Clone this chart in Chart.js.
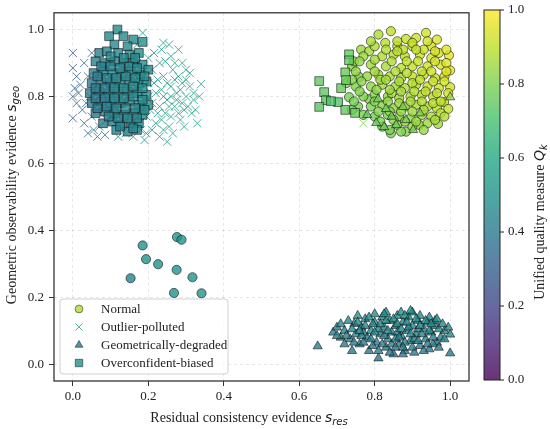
<!DOCTYPE html>
<html>
<head>
<meta charset="utf-8">
<script src="https://cdn.jsdelivr.net/npm/chart.js@4.4.1/dist/chart.umd.min.js"></script>
<style>
  html, body { margin: 0; padding: 0; background: #fff; }
  #wrap { width: 550px; height: 429px; }
</style>
</head>
<body>
<div id="wrap"><canvas id="qualityScatter"></canvas></div>
<script>
// Points are [s_res, s_geo, Q_k]
const seriesNames = ["Normal", "Outlier-polluted", "Geometrically-degraded", "Overconfident-biased"];
const xTicks = [0.0, 0.2, 0.4, 0.6, 0.8, 1.0];
const yTicks = [0.0, 0.2, 0.4, 0.6, 0.8, 1.0];
const qTicks = [0.0, 0.2, 0.4, 0.6, 0.8, 1.0];

const normalPts = [
  [0.843,0.995,.90],[0.936,0.99,.93],[0.910,0.975,.92],[0.828,0.96,.89],[0.883,0.972,.91],
  [0.764,0.94,.85],[0.785,0.935,.86],[0.997,0.923,.96],[1.0,0.878,.95],[0.843,0.69,.80],
  [0.883,0.695,.82],[0.968,0.718,.86],[0.918,0.715,.84],[0.759,0.858,.82],[0.732,0.798,.79],
  [0.785,0.792,.80],[0.756,0.77,.79],[1.0,0.828,.93],[0.984,0.783,.91],[0.995,0.763,.91],
  [0.80,0.95,.87],[0.86,0.95,.90],[0.90,0.95,.91],[0.95,0.95,.93],[0.97,0.93,.94],
  [0.77,0.92,.85],[0.82,0.92,.88],[0.85,0.925,.89],[0.88,0.92,.90],[0.92,0.925,.92],[0.95,0.915,.93],
  [0.74,0.89,.83],[0.79,0.895,.86],[0.83,0.89,.87],[0.87,0.885,.89],[0.90,0.89,.91],[0.94,0.89,.92],[0.975,0.895,.94],
  [0.78,0.86,.84],[0.81,0.865,.86],[0.84,0.86,.87],[0.87,0.855,.88],[0.90,0.86,.90],[0.93,0.865,.91],[0.96,0.855,.92],
  [0.75,0.83,.81],[0.79,0.83,.83],[0.82,0.835,.85],[0.855,0.83,.86],[0.88,0.825,.88],[0.91,0.835,.89],[0.94,0.83,.91],[0.97,0.825,.92],
  [0.77,0.80,.81],[0.80,0.805,.82],[0.835,0.80,.84],[0.865,0.795,.86],[0.895,0.80,.87],[0.925,0.805,.89],[0.955,0.80,.90],
  [0.79,0.77,.80],[0.82,0.775,.82],[0.85,0.765,.83],[0.88,0.77,.85],[0.91,0.775,.87],[0.94,0.77,.88],[0.965,0.765,.89],
  [0.80,0.74,.79],[0.835,0.745,.81],[0.865,0.74,.83],[0.895,0.735,.84],[0.925,0.745,.86],[0.95,0.74,.87],
  [0.82,0.71,.80],[0.86,0.715,.82],[0.90,0.71,.83],[0.94,0.72,.85],
  [0.745,0.905,.83],[0.81,0.985,.88],[0.965,0.97,.94],[0.725,0.84,.80],[0.985,0.86,.94],[0.875,0.94,.90],
  [0.845,0.81,.85],[0.90,0.84,.89],[0.815,0.85,.85],[0.93,0.94,.92],[0.955,0.78,.89],[0.77,0.745,.79],[0.74,0.76,.78],
  [0.86,0.965,.90],[0.90,0.96,.92],[0.94,0.965,.93],[0.79,0.965,.87],
  [0.83,0.94,.88],[0.86,0.935,.89],[0.91,0.94,.91],[0.96,0.935,.94],[0.99,0.94,.95],
  [0.76,0.905,.84],[0.80,0.91,.86],[0.845,0.905,.88],[0.885,0.905,.90],[0.915,0.905,.91],[0.96,0.905,.93],[0.99,0.90,.95],
  [0.75,0.875,.83],[0.80,0.875,.85],[0.855,0.875,.88],[0.885,0.87,.89],[0.925,0.875,.91],[0.95,0.875,.92],[0.99,0.875,.94],
  [0.74,0.85,.81],[0.765,0.845,.82],[0.83,0.85,.86],[0.865,0.845,.87],[0.92,0.85,.90],[0.955,0.845,.92],[0.985,0.845,.93],
  [0.76,0.815,.81],[0.805,0.82,.83],[0.84,0.82,.85],[0.87,0.815,.86],[0.905,0.815,.88],[0.935,0.815,.90],[0.965,0.81,.91],[0.995,0.81,.93],
  [0.745,0.785,.79],[0.80,0.785,.81],[0.835,0.785,.83],[0.865,0.78,.85],[0.895,0.785,.86],[0.925,0.785,.88],[0.975,0.785,.90],
  [0.81,0.755,.81],[0.84,0.755,.82],[0.87,0.755,.84],[0.90,0.755,.85],[0.93,0.76,.87],[0.975,0.75,.89],
  [0.815,0.725,.80],[0.85,0.73,.82],[0.88,0.725,.83],[0.91,0.725,.84],[0.96,0.73,.86],[0.985,0.74,.88],
  [0.84,0.70,.80],[0.87,0.695,.81],[0.93,0.70,.84],
  [0.276,0.380,.51],[0.288,0.372,.51],[0.185,0.355,.50],[0.194,0.314,.50],[0.226,0.299,.50],
  [0.275,0.282,.50],[0.317,0.260,.51],[0.153,0.257,.44],[0.268,0.213,.50],[0.341,0.212,.51]
];

const outlierPts = [
  [0.0,0.93,.27],[0.0,0.885,.28],[0.005,0.825,.30],[0.0,0.80,.29],[0.01,0.78,.31],[0.0,0.735,.29],
  [0.015,0.81,.32],[0.02,0.835,.33],[0.025,0.76,.34],
  [0.04,0.86,.36],[0.045,0.80,.36],[0.05,0.74,.37],[0.035,0.78,.35],[0.06,0.83,.38],[0.055,0.70,.38],
  [0.07,0.765,.39],[0.065,0.68,.39],[0.05,0.93,.37],[0.075,0.87,.40],
  [0.03,0.72,.34],[0.04,0.69,.36],[0.01,0.86,.31],[0.03,0.90,.34],[0.06,0.79,.38],[0.08,0.81,.40],
  [0.085,0.685,.41],[0.07,0.71,.39],
  [0.09,0.73,.42],[0.10,0.90,.43],[0.12,0.68,.44],[0.14,0.69,.45],
  [0.16,0.93,.50],[0.17,0.90,.51],[0.185,0.99,.52],[0.18,0.86,.51],[0.19,0.83,.52],[0.20,0.80,.52],
  [0.175,0.77,.51],[0.195,0.74,.52],[0.18,0.70,.51],[0.16,0.68,.50],[0.21,0.88,.53],[0.215,0.84,.53],
  [0.205,0.76,.53],[0.22,0.72,.54],[0.19,0.67,.52],[0.20,0.915,.53],[0.165,0.82,.51],[0.17,0.735,.51],
  [0.155,0.71,.50],[0.165,0.86,.51],[0.17,0.955,.51],[0.18,0.80,.51],[0.185,0.76,.52],[0.19,0.88,.52],
  [0.195,0.69,.52],[0.20,0.84,.53],[0.21,0.78,.53],[0.21,0.70,.53],[0.215,0.93,.53],[0.22,0.81,.54],
  [0.225,0.75,.54],[0.23,0.68,.54],
  [0.23,0.90,.54],[0.24,0.86,.55],[0.235,0.82,.55],[0.25,0.79,.55],[0.245,0.75,.55],[0.23,0.77,.54],
  [0.26,0.83,.56],[0.265,0.88,.56],[0.255,0.71,.56],[0.25,0.665,.55],[0.27,0.77,.56],[0.275,0.81,.57],
  [0.24,0.70,.55],[0.225,0.85,.54],[0.26,0.92,.56],[0.28,0.86,.57],[0.235,0.94,.54],
  [0.24,0.80,.55],[0.245,0.905,.55],[0.25,0.84,.55],[0.255,0.77,.56],[0.26,0.74,.56],[0.265,0.69,.56],
  [0.27,0.85,.56],[0.27,0.90,.57],[0.275,0.79,.57],[0.28,0.75,.57],[0.285,0.82,.57],[0.29,0.78,.57],
  [0.295,0.71,.58],[0.30,0.85,.58],[0.305,0.77,.58],[0.31,0.87,.58],[0.32,0.81,.59],[0.325,0.76,.59],
  [0.335,0.80,.59],[0.28,0.94,.57],[0.255,0.955,.56],[0.24,0.96,.55],[0.26,0.80,.56],[0.235,0.73,.55],
  [0.29,0.84,.57],[0.30,0.80,.58],[0.295,0.76,.57],[0.31,0.83,.58],[0.32,0.79,.58],[0.33,0.72,.59],
  [0.34,0.837,.59],[0.30,0.88,.58],[0.285,0.73,.57],[0.315,0.75,.58],[0.29,0.90,.57],
  [0.74,0.83,.82],[0.75,0.80,.81],[0.77,0.72,.80],[0.735,0.86,.82]
];

const degradedPts = [
  [0.649,0.054,.42],
  [0.69,0.095,.44],[0.70,0.11,.45],[0.71,0.08,.43],[0.72,0.10,.44],[0.735,0.075,.42],[0.746,0.121,.47],
  [0.75,0.09,.44],[0.76,0.06,.41],[0.765,0.11,.46],[0.775,0.135,.48],[0.78,0.08,.43],[0.785,0.04,.40],
  [0.79,0.10,.45],[0.80,0.125,.47],[0.805,0.065,.42],[0.81,0.018,.38],[0.815,0.09,.44],[0.82,0.14,.48],
  [0.825,0.11,.46],[0.83,0.05,.41],[0.835,0.075,.43],[0.84,0.13,.48],[0.845,0.095,.45],[0.85,0.03,.39],
  [0.855,0.115,.46],[0.86,0.145,.49],[0.865,0.06,.42],[0.87,0.085,.44],[0.875,0.125,.47],[0.88,0.04,.40],
  [0.885,0.10,.45],[0.89,0.14,.48],[0.895,0.07,.43],[0.90,0.115,.46],[0.905,0.035,.40],[0.91,0.09,.44],
  [0.915,0.13,.47],[0.92,0.055,.42],[0.93,0.105,.45],[0.935,0.075,.43],[0.94,0.125,.47],[0.945,0.045,.41],
  [0.95,0.095,.45],[0.96,0.115,.46],[0.965,0.065,.43],[0.975,0.08,.44],[0.985,0.10,.45],[1.0,0.089,.46],
  [1.0,0.033,.40],[0.995,0.11,.47],
  [0.73,0.13,.47],[0.755,0.145,.49],[0.77,0.095,.45],[0.795,0.055,.41],[0.80,0.15,.49],[0.81,0.105,.46],
  [0.83,0.155,.49],[0.845,0.06,.42],[0.86,0.095,.45],[0.87,0.155,.50],[0.875,0.03,.39],[0.89,0.11,.46],
  [0.90,0.155,.50],[0.905,0.075,.43],[0.92,0.145,.48],[0.93,0.04,.41],[0.945,0.14,.48],[0.955,0.06,.42],
  [0.96,0.13,.47],[0.97,0.105,.46],[0.72,0.06,.42],[0.74,0.04,.40],[0.765,0.085,.44],[0.825,0.085,.44],
  [0.855,0.075,.43],[0.915,0.105,.46],
  [0.70,0.085,.44],[0.71,0.12,.46],[0.725,0.085,.43],[0.74,0.105,.45],[0.745,0.065,.42],[0.755,0.125,.47],
  [0.77,0.065,.42],[0.775,0.115,.46],[0.785,0.14,.48],[0.79,0.075,.43],[0.80,0.095,.45],[0.815,0.12,.47],
  [0.82,0.06,.42],[0.83,0.13,.48],[0.835,0.10,.45],[0.84,0.035,.40],[0.85,0.135,.48],[0.855,0.05,.41],
  [0.86,0.12,.47],[0.865,0.08,.44],[0.87,0.105,.46],[0.88,0.145,.49],[0.88,0.065,.43],[0.885,0.125,.47],
  [0.895,0.09,.45],[0.90,0.05,.42],[0.91,0.135,.48],[0.915,0.07,.43],[0.92,0.115,.46],[0.925,0.09,.45],
  [0.935,0.13,.47],[0.94,0.06,.42],[0.945,0.10,.46],[0.95,0.12,.47],[0.955,0.08,.44],[0.965,0.135,.48],
  [0.97,0.05,.42],[0.98,0.12,.47],[0.985,0.075,.44],[0.81,0.04,.40],[0.875,0.05,.41],[0.795,0.12,.47],
  [0.76,0.10,.45],[0.825,0.15,.49],[0.895,0.16,.50],
  [0.804,0.721,.77],[0.825,0.709,.77],[0.857,0.715,.78],[0.902,0.70,.79],[0.883,0.73,.79],[0.809,0.792,.78],
  [0.83,0.763,.78],[0.875,0.769,.80],[1.0,0.798,.85],[0.78,0.745,.76],[0.845,0.74,.78],[0.92,0.75,.81]
];

const overconfPts = [
  [0.118,1.0,.47],[0.096,0.98,.46],[0.134,0.98,.47],[0.16,0.97,.48],[0.185,0.963,.49],[0.11,0.955,.46],[0.145,0.95,.47],
  [0.07,0.93,.43],[0.09,0.935,.45],[0.12,0.93,.46],[0.15,0.925,.47],[0.175,0.93,.48],
  [0.06,0.905,.43],[0.085,0.90,.44],[0.11,0.905,.45],[0.135,0.90,.46],[0.16,0.90,.47],[0.185,0.895,.48],
  [0.055,0.87,.42],[0.08,0.875,.43],[0.105,0.87,.45],[0.13,0.87,.46],[0.155,0.875,.47],[0.18,0.865,.48],[0.20,0.88,.49],
  [0.05,0.84,.41],[0.075,0.845,.43],[0.10,0.84,.44],[0.125,0.84,.45],[0.15,0.845,.46],[0.175,0.84,.47],[0.195,0.845,.48],
  [0.045,0.81,.40],[0.07,0.815,.42],[0.095,0.81,.43],[0.12,0.81,.45],[0.145,0.815,.46],[0.17,0.81,.47],[0.195,0.805,.48],
  [0.05,0.78,.40],[0.075,0.785,.42],[0.10,0.78,.43],[0.125,0.78,.44],[0.15,0.785,.46],[0.175,0.775,.47],[0.20,0.775,.48],
  [0.06,0.75,.41],[0.085,0.755,.42],[0.11,0.75,.44],[0.135,0.745,.45],[0.16,0.75,.46],[0.185,0.745,.47],
  [0.08,0.72,.42],[0.105,0.725,.43],[0.13,0.715,.44],[0.155,0.72,.45],[0.175,0.72,.46],
  [0.115,0.70,.44],[0.145,0.695,.45],[0.17,0.70,.46],
  [0.065,0.86,.42],[0.09,0.855,.44],[0.115,0.855,.45],[0.14,0.86,.46],[0.165,0.855,.47],[0.19,0.86,.48],
  [0.06,0.825,.41],[0.085,0.825,.43],[0.11,0.825,.44],[0.135,0.825,.46],[0.16,0.83,.47],[0.185,0.825,.48],
  [0.06,0.795,.41],[0.085,0.795,.42],[0.11,0.795,.44],[0.135,0.795,.45],[0.16,0.80,.46],[0.185,0.79,.47],
  [0.065,0.765,.41],[0.09,0.77,.42],[0.115,0.765,.44],[0.14,0.765,.45],[0.165,0.765,.46],[0.19,0.76,.47],
  [0.095,0.74,.43],[0.12,0.735,.44],[0.145,0.735,.45],[0.17,0.735,.46],[0.075,0.89,.43],[0.10,0.89,.44],
  [0.125,0.885,.45],[0.15,0.89,.46],[0.17,0.885,.47],[0.10,0.92,.45],[0.135,0.915,.46],[0.165,0.915,.47],
  [0.125,0.71,.44],[0.16,0.705,.45],
  [0.653,0.846,.75],[0.666,0.813,.75],[0.671,0.789,.74],[0.653,0.769,.74],[0.703,0.783,.73],[0.722,0.760,.76],
  [0.748,0.751,.77],[0.711,0.825,.76],[0.722,0.872,.77],[0.732,0.926,.76],[0.732,0.908,.75],[0.684,0.786,.72],[0.724,0.849,.77]
];

// viridis colour stops
const viridis = ["#440154","#482475","#414487","#355f8d","#2a788e","#21918c","#22a884","#44bf70","#7ad151","#bddf26","#fde725"];
const ALPHA = 0.8;

function hexRgb(h) {
  return [parseInt(h.slice(1, 3), 16), parseInt(h.slice(3, 5), 16), parseInt(h.slice(5, 7), 16)];
}
function cmap(q, a) {
  q = Math.max(0, Math.min(1, q));
  const p = q * (viridis.length - 1);
  const i = Math.min(Math.floor(p), viridis.length - 2);
  const t = p - i;
  const c0 = hexRgb(viridis[i]), c1 = hexRgb(viridis[i + 1]);
  const c = c0.map((v, k) => Math.round(v + (c1[k] - v) * t));
  return "rgba(" + c[0] + "," + c[1] + "," + c[2] + "," + a + ")";
}
const toXY = (arr) => arr.map((p) => ({ x: p[0], y: p[1], q: p[2] }));

const edge = "rgba(10,10,10,0.8)";
const SERIF = '"Liberation Serif", "Times New Roman", serif';
const MATH = '"DejaVu Sans", sans-serif';

// marker styles used by both the datasets and the legend
const markers = [
  { style: "circle", radius: 4.6, q: 0.88 },
  { style: "crossRot", radius: 5.8, q: 0.60 },
  { style: "triangle", radius: 5.3, q: 0.40 },
  { style: "rect", radius: 6.2, q: 0.50 },
];

function mathText(ctx, parts, cx, cy, rot) {
  ctx.save();
  ctx.translate(cx, cy);
  ctx.rotate(rot);
  ctx.textBaseline = "alphabetic";
  ctx.textAlign = "left";
  let w = 0;
  parts.forEach((p) => { ctx.font = p.f; p.w = ctx.measureText(p.t).width; w += p.w; });
  let x = -w / 2;
  parts.forEach((p) => { ctx.font = p.f; ctx.fillText(p.t, x, p.dy); x += p.w; });
  ctx.restore();
}

const decorPlugin = {
  id: "decor",
  beforeDraw(chart) {
    const ctx = chart.ctx;
    ctx.save();
    ctx.fillStyle = "#fff";
    ctx.fillRect(0, 0, chart.width, chart.height);
    ctx.restore();
  },
  afterDraw(chart) {
    const ctx = chart.ctx;
    const a = chart.chartArea;
    ctx.save();
    // axes frame
    ctx.strokeStyle = "#333";
    ctx.lineWidth = 1.3;
    ctx.strokeRect(a.left, a.top, a.right - a.left, a.bottom - a.top);

    // legend
    const lx = 60, ly = 299, lw = 168, lh = 75, r = 3;
    ctx.beginPath();
    ctx.moveTo(lx + r, ly);
    ctx.arcTo(lx + lw, ly, lx + lw, ly + lh, r);
    ctx.arcTo(lx + lw, ly + lh, lx, ly + lh, r);
    ctx.arcTo(lx, ly + lh, lx, ly, r);
    ctx.arcTo(lx, ly, lx + lw, ly, r);
    ctx.closePath();
    ctx.fillStyle = "rgba(255,255,255,0.8)";
    ctx.fill();
    ctx.strokeStyle = "#d0d0d0";
    ctx.lineWidth = 1;
    ctx.stroke();
    seriesNames.forEach((name, i) => {
      const yy = 309 + i * 18;
      const m = markers[i];
      ctx.save();
      ctx.fillStyle = cmap(m.q, ALPHA);
      ctx.strokeStyle = m.style === "crossRot" ? cmap(m.q, ALPHA) : edge;
      ctx.lineWidth = m.style === "crossRot" ? 1 : 0.6;
      Chart.helpers.drawPoint(ctx, { pointStyle: m.style, radius: m.radius * 0.85, borderWidth: ctx.lineWidth }, 79, yy);
      ctx.restore();
      ctx.fillStyle = "#222";
      ctx.font = "13px " + SERIF;
      ctx.textBaseline = "middle";
      ctx.textAlign = "left";
      ctx.fillText(name, 101, yy + 1);
    });

    // colourbar
    const cbL = 484, cbR = 500, cbT = 10, cbB = 380;
    const grad = ctx.createLinearGradient(0, cbB, 0, cbT);
    viridis.forEach((c, i) => grad.addColorStop(i / (viridis.length - 1), cmap(i / (viridis.length - 1), ALPHA)));
    ctx.fillStyle = grad;
    ctx.fillRect(cbL, cbT, cbR - cbL, cbB - cbT);
    ctx.strokeStyle = "#222";
    ctx.lineWidth = 1;
    ctx.strokeRect(cbL, cbT, cbR - cbL, cbB - cbT);
    ctx.font = "13px " + SERIF;
    ctx.fillStyle = "#222";
    ctx.textBaseline = "middle";
    ctx.textAlign = "left";
    qTicks.forEach((v) => {
      const yy = cbB - (cbB - cbT) * v;
      ctx.beginPath();
      ctx.moveTo(cbR, yy);
      ctx.lineTo(cbR + 4, yy);
      ctx.stroke();
      ctx.fillText(v.toFixed(1), 508, yy);
    });

    // axis titles with mathtext-like subscripts
    ctx.fillStyle = "#222";
    mathText(ctx, [
      { t: "Residual consistency evidence ", f: "14px " + SERIF, dy: 0 },
      { t: "s", f: "italic 14px " + MATH, dy: 0 },
      { t: "res", f: "italic 10px " + MATH, dy: 3 },
    ], 249, 422, 0);
    mathText(ctx, [
      { t: "Geometric observability evidence ", f: "14px " + SERIF, dy: 0 },
      { t: "s", f: "italic 14px " + MATH, dy: 0 },
      { t: "geo", f: "italic 10px " + MATH, dy: 3 },
    ], 16, 195, -Math.PI / 2);
    mathText(ctx, [
      { t: "Unified quality measure ", f: "14px " + SERIF, dy: 0 },
      { t: "Q", f: "italic 14px " + MATH, dy: 0 },
      { t: "k", f: "italic 10px " + MATH, dy: 3 },
    ], 544, 222, -Math.PI / 2);
    ctx.restore();
  },
};

function makeSet(i, pts, order) {
  const m = markers[i];
  const isCross = m.style === "crossRot";
  return {
    label: seriesNames[i],
    data: toXY(pts),
    order: order,
    pointStyle: m.style,
    pointRadius: m.radius,
    pointBackgroundColor: (c) => cmap(c.raw.q, ALPHA),
    pointBorderColor: isCross ? (c) => cmap(c.raw.q, ALPHA) : edge,
    pointBorderWidth: isCross ? 1 : 0.7,
    showLine: false,
  };
}

const tickFont = { family: SERIF, size: 13 };

new Chart(document.getElementById("qualityScatter").getContext("2d"), {
  type: "scatter",
  data: {
    datasets: [
      makeSet(0, normalPts, 4),
      makeSet(1, outlierPts, 3),
      makeSet(2, degradedPts, 2),
      makeSet(3, overconfPts, 1),
    ],
  },
  plugins: [decorPlugin],
  options: {
    responsive: true,
    maintainAspectRatio: false,
    animation: false,
    events: [],
    layout: { padding: { left: 0, top: 9, right: 81, bottom: 0 } },
    plugins: { legend: { display: false }, tooltip: { enabled: false } },
    scales: {
      x: {
        type: "linear",
        min: -0.05,
        max: 1.05,
        afterBuildTicks: (s) => { s.ticks = xTicks.map((v) => ({ value: v })); },
        afterFit: (s) => { s.height = 48; },
        ticks: { font: tickFont, color: "#222", padding: 3, callback: (v) => v.toFixed(1) },
        grid: { color: "rgba(0,0,0,0.12)", lineWidth: 0.8, tickColor: "#333", tickLength: 5, tickWidth: 1 },
        border: { display: false, dash: [3, 3] },
      },
      y: {
        type: "linear",
        min: -0.05,
        max: 1.05,
        afterBuildTicks: (s) => { s.ticks = yTicks.map((v) => ({ value: v })); },
        afterFit: (s) => { s.width = 54; },
        ticks: { font: tickFont, color: "#222", padding: 5, callback: (v) => v.toFixed(1) },
        grid: { color: "rgba(0,0,0,0.12)", lineWidth: 0.8, tickColor: "#333", tickLength: 5, tickWidth: 1 },
        border: { display: false, dash: [3, 3] },
      },
    },
  },
});
</script>
</body>
</html>
